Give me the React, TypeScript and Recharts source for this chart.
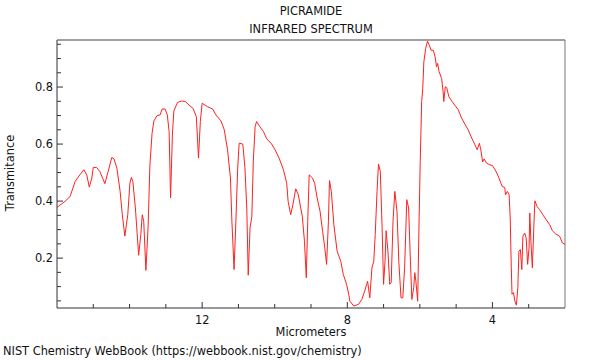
import React from "react";
import { LineChart, Line, XAxis, YAxis, ReferenceLine } from "recharts";

// wavelength (µm), left to right
const micrometers = [
  16.0, 15.78, 15.64, 15.5, 15.37, 15.26, 15.18, 15.11, 15.04, 15.0, 14.91, 14.82, 14.68, 14.59, 14.49, 14.43,
  14.35, 14.26, 14.2, 14.13, 14.05, 13.99, 13.95, 13.91, 13.84, 13.75, 13.69, 13.65, 13.61, 13.55, 13.49, 13.44,
  13.38, 13.33, 13.24, 13.16, 13.1, 13.02, 12.96, 12.91, 12.87, 12.82, 12.78, 12.68, 12.57, 12.46, 12.39, 12.25,
  12.16, 12.1, 12.05, 12.0, 11.85, 11.71, 11.62, 11.48, 11.39, 11.3, 11.22, 11.18, 11.12, 11.07, 11.02, 10.98,
  10.88, 10.82, 10.77, 10.73, 10.68, 10.63, 10.59, 10.54, 10.5, 10.41, 10.31, 10.22, 10.1, 9.99, 9.88, 9.76,
  9.67, 9.63, 9.56, 9.5, 9.42, 9.35, 9.24, 9.18, 9.13, 9.09, 9.05, 8.96, 8.9, 8.83, 8.75, 8.68, 8.62, 8.57,
  8.52, 8.49, 8.44, 8.37, 8.28, 8.18, 8.11, 8.02, 7.96, 7.93, 7.82, 7.69, 7.6, 7.52, 7.48, 7.44, 7.38, 7.32,
  7.27, 7.23, 7.18, 7.14, 7.09, 7.04, 7.0, 6.96, 6.93, 6.88, 6.83, 6.79, 6.74, 6.69, 6.63, 6.58, 6.52, 6.47,
  6.42, 6.36, 6.31, 6.26, 6.22, 6.17, 6.14, 6.11, 6.06, 6.02, 5.99, 5.95, 5.92, 5.89, 5.84, 5.79, 5.74, 5.69,
  5.63, 5.58, 5.54, 5.51, 5.47, 5.4, 5.36, 5.34, 5.3, 5.26, 5.2, 5.11, 5.03, 4.94, 4.85, 4.76, 4.67, 4.57,
  4.48, 4.42, 4.36, 4.32, 4.27, 4.23, 4.16, 4.07, 4.0, 3.93, 3.89, 3.82, 3.73, 3.66, 3.64, 3.59, 3.54, 3.51,
  3.48, 3.46, 3.42, 3.38, 3.34, 3.3, 3.27, 3.23, 3.19, 3.16, 3.11, 3.07, 3.03, 2.99, 2.97, 2.94, 2.9, 2.86,
  2.83, 2.77, 2.7, 2.61, 2.52, 2.42, 2.35, 2.26, 2.15, 2.07, 2.0,
];

const transmittance = [
  0.378, 0.399, 0.416, 0.469, 0.492, 0.51, 0.492, 0.449, 0.481, 0.518, 0.518, 0.504, 0.461, 0.504, 0.553, 0.548,
  0.516, 0.434, 0.352, 0.277, 0.352, 0.463, 0.483, 0.469, 0.376, 0.21, 0.283, 0.352, 0.329, 0.157, 0.306, 0.527,
  0.638, 0.681, 0.7, 0.702, 0.723, 0.723, 0.702, 0.644, 0.411, 0.632, 0.716, 0.746, 0.751, 0.749, 0.74, 0.725,
  0.696, 0.551, 0.679, 0.743, 0.731, 0.723, 0.702, 0.681, 0.65, 0.58, 0.481, 0.329, 0.16, 0.329, 0.516, 0.603,
  0.6, 0.516, 0.376, 0.14, 0.306, 0.347, 0.539, 0.661, 0.679, 0.661, 0.644, 0.618, 0.603, 0.58, 0.551, 0.51,
  0.463, 0.399, 0.352, 0.387, 0.443, 0.422, 0.347, 0.259, 0.131, 0.329, 0.492, 0.481, 0.463, 0.411, 0.364, 0.294, 0.236, 0.178,
  0.329, 0.472, 0.434, 0.317, 0.224, 0.189, 0.143, 0.108, 0.073, 0.049, 0.032, 0.038, 0.055, 0.084, 0.102, 0.119, 0.061, 0.166,
  0.189, 0.283, 0.434, 0.53, 0.504, 0.306, 0.108, 0.189, 0.296, 0.224, 0.108, 0.114, 0.329, 0.434, 0.364, 0.189, 0.061, 0.061,
  0.166, 0.405, 0.376, 0.189, 0.055, 0.096, 0.149, 0.119, 0.049, 0.341, 0.539, 0.749, 0.795, 0.888, 0.935, 0.961, 0.947, 0.929,
  0.929, 0.906, 0.871, 0.883, 0.854, 0.83, 0.784, 0.749, 0.801, 0.798, 0.766, 0.749, 0.735, 0.72, 0.691, 0.67, 0.65, 0.621,
  0.597, 0.58, 0.603, 0.58, 0.537, 0.548, 0.533, 0.527, 0.525, 0.51, 0.502, 0.481, 0.451, 0.448, 0.422, 0.434, 0.422, 0.341,
  0.166, 0.073, 0.079, 0.049, 0.035, 0.096, 0.224, 0.23, 0.16, 0.277, 0.288, 0.271, 0.178, 0.236, 0.358, 0.259, 0.166, 0.306,
  0.401, 0.381, 0.37, 0.352, 0.335, 0.317, 0.296, 0.285, 0.277, 0.253, 0.248,
];

const xTicks = [3, 4, 5, 6, 7, 8, 9, 10, 11, 12, 13, 14, 15];
const xLabelled = [4, 8, 12];
const yTicks = [
  0.05, 0.1, 0.15, 0.2, 0.25, 0.3, 0.35, 0.4, 0.45, 0.5, 0.55, 0.6, 0.65, 0.7, 0.75, 0.8, 0.85, 0.9, 0.95,
];
const yLabelled = [0.2, 0.4, 0.6, 0.8];
const xDomain = [2, 16];
const yDomain = [0.025, 0.965];

const data = micrometers.map((um, i) => ({ um, t: transmittance[i] }));

const font = "'DejaVu Sans', sans-serif";
const fontSize = 11.4;
const textColor = "#111";

const isMajor = (list: number[], v: number) => list.some((m) => Math.abs(m - v) < 1e-6);

function XTick(props: any) {
  const { x, y, payload } = props;
  const major = isMajor(xLabelled, payload.value);
  return (
    <g>
      <line x1={x} x2={x} y1={y} y2={y - (major ? 6 : 4)} stroke="#333" />
      {major && (
        <text x={x} y={y + 16} textAnchor="middle" fontSize={fontSize} fontFamily={font} fill={textColor}>
          {payload.value}
        </text>
      )}
    </g>
  );
}

function YTick(props: any) {
  const { x, y, payload } = props;
  const major = isMajor(yLabelled, payload.value);
  return (
    <g>
      <line x1={x} x2={x + (major ? 6 : 4)} y1={y} y2={y} stroke="#333" />
      {major && (
        <text x={x - 4} y={y + 4.2} textAnchor="end" fontSize={fontSize} fontFamily={font} fill={textColor}>
          {payload.value.toFixed(1)}
        </text>
      )}
    </g>
  );
}

function Label({ x, y, children, rotate }: { x: number; y: number; children: React.ReactNode; rotate?: boolean }) {
  return (
    <div
      style={{
        position: "absolute",
        left: x,
        top: y,
        transform: `translate(-50%, -50%)${rotate ? " rotate(-90deg)" : ""}`,
        whiteSpace: "nowrap",
        lineHeight: 1,
        fontSize,
        fontFamily: font,
        color: textColor,
      }}
    >
      {children}
    </div>
  );
}

export default function App() {
  return (
    <div style={{ position: "absolute", left: 0, top: 0, width: 600, height: 360, background: "#fff", fontFamily: font }}>
      <LineChart width={600} height={360} data={data} margin={{ top: 40, right: 35, bottom: 0, left: 0 }}>
        <XAxis
          dataKey="um"
          type="number"
          domain={xDomain}
          reversed
          allowDataOverflow
          ticks={xTicks}
          interval={0}
          tickSize={0}
          tickMargin={0}
          tick={<XTick />}
          height={52}
          axisLine={{ stroke: "#333" }}
        />
        <YAxis
          type="number"
          domain={yDomain}
          allowDataOverflow
          ticks={yTicks}
          interval={0}
          tickSize={0}
          tickMargin={0}
          tick={<YTick />}
          width={57}
          axisLine={{ stroke: "#333" }}
        />
        <ReferenceLine y={yDomain[1]} stroke="#a0a0a0" strokeWidth={2} ifOverflow="visible" />
        <ReferenceLine x={xDomain[0]} stroke="#777" strokeWidth={1} ifOverflow="visible" />
        <Line
          dataKey="t"
          type="linear"
          stroke="#ff2020"
          strokeWidth={1}
          dot={false}
          isAnimationActive={false}
        />
      </LineChart>
      <Label x={311} y={12}>PICRAMIDE</Label>
      <Label x={311} y={30}>INFRARED SPECTRUM</Label>
      <Label x={311} y={333}>Micrometers</Label>
      <Label x={11} y={173} rotate>Transmitance</Label>
      <div
        style={{
          position: "absolute",
          left: 3,
          top: 352,
          transform: "translateY(-50%)",
          whiteSpace: "nowrap",
          lineHeight: 1,
          fontSize,
          fontFamily: font,
          color: textColor,
        }}
      >
        NIST Chemistry WebBook (https://webbook.nist.gov/chemistry)
      </div>
    </div>
  );
}
